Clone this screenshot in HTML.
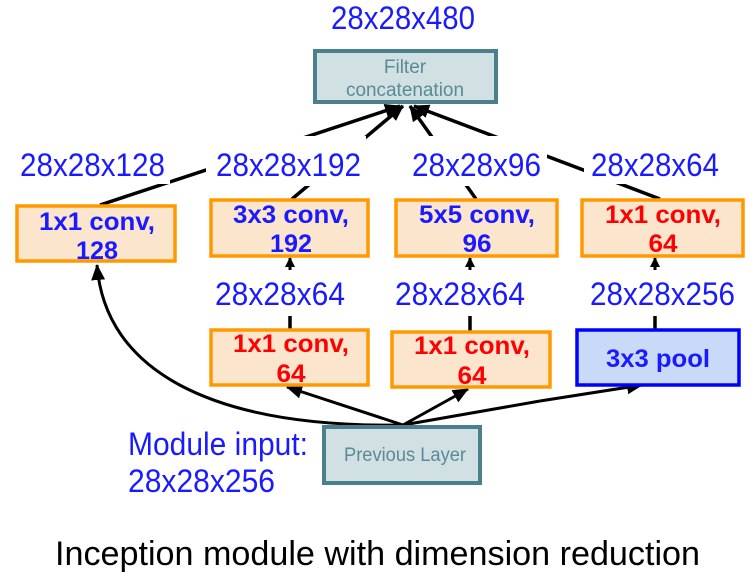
<!DOCTYPE html>
<html><head><meta charset="utf-8"><style>
body{margin:0;background:#fff;}
svg{display:block;font-family:"Liberation Sans",sans-serif;}
.l{font-size:32px;fill:#1a1aff;}
.b{font-size:25px;font-weight:bold;}
</style></head><body>
<svg width="755" height="579" viewBox="0 0 755 579" xmlns="http://www.w3.org/2000/svg">
<defs><marker id="a" markerWidth="10" markerHeight="10" refX="9" refY="5" orient="auto" markerUnits="userSpaceOnUse"><path d="M0,0 L10,5 L0,10 z" fill="#000"/></marker>
<marker id="A" markerWidth="16" markerHeight="14" refX="15" refY="7" orient="auto" markerUnits="userSpaceOnUse"><path d="M0,0 L16,7 L0,14 z" fill="#000"/></marker></defs>
<g stroke="#000" stroke-width="3.5" fill="none">
<line x1="100" y1="205" x2="400" y2="106" marker-end="url(#A)"/>
<line x1="292" y1="199" x2="403" y2="106" marker-end="url(#A)"/>
<line x1="476" y1="199" x2="410" y2="106" marker-end="url(#A)"/>
<line x1="660" y1="199" x2="414" y2="106" marker-end="url(#A)"/>
<line x1="290" y1="316" x2="290" y2="329"/>
<line x1="470" y1="316" x2="470" y2="331"/>
<line x1="655" y1="316" x2="655" y2="329"/>
</g>
<g stroke="#000" stroke-width="3" fill="none">
<line x1="290" y1="270" x2="290" y2="258" marker-end="url(#a)"/>
<line x1="470" y1="270" x2="470" y2="258" marker-end="url(#a)"/>
<line x1="655" y1="270" x2="655" y2="258" marker-end="url(#a)"/>
<line x1="403" y1="425" x2="287" y2="387" marker-end="url(#A)"/>
<line x1="403" y1="425" x2="468" y2="389" marker-end="url(#A)"/>
<line x1="403" y1="425" x2="540" y2="401" />
<line x1="540" y1="401" x2="642" y2="385" marker-end="url(#A)"/>
<path d="M403,425 C210,428 105,370 97,265" marker-end="url(#A)"/>
</g>
<g fill="#fff">
<rect x="14" y="140" width="156" height="44"/>
<rect x="206" y="136" width="160" height="50"/>
<rect x="402" y="136" width="145" height="50"/>
<rect x="584" y="140" width="140" height="44"/>
</g>
<text x="331" y="29" class="l" textLength="144" lengthAdjust="spacingAndGlyphs">28x28x480</text>
<rect x="315" y="51" width="181" height="51" fill="#d0e0e3" stroke="#4a7f8c" stroke-width="4"/>
<text x="405" y="73" text-anchor="middle" font-size="19" fill="#5a8a96">Filter</text>
<text x="346" y="96" font-size="19" fill="#5a8a96" textLength="118" lengthAdjust="spacingAndGlyphs">concatenation</text>
<text x="20" y="176" class="l" textLength="145" lengthAdjust="spacingAndGlyphs">28x28x128</text>
<text x="216" y="176" class="l" textLength="145" lengthAdjust="spacingAndGlyphs">28x28x192</text>
<text x="412" y="176" class="l" textLength="129" lengthAdjust="spacingAndGlyphs">28x28x96</text>
<text x="591" y="176" class="l" textLength="128" lengthAdjust="spacingAndGlyphs">28x28x64</text>
<g fill="#fce5cd" stroke="#ff9900" stroke-width="3.5">
<rect x="17" y="206" width="158" height="55"/>
<rect x="211" y="200" width="157" height="56"/>
<rect x="396" y="200" width="161" height="56"/>
<rect x="582" y="200" width="161" height="56"/>
<rect x="211" y="330" width="157" height="55"/>
<rect x="392" y="332" width="158" height="55"/>
</g>
<rect x="577" y="330" width="162" height="55" fill="#c9daf8" stroke="#0000ff" stroke-width="3.5"/>
<g class="b" text-anchor="middle" lengthAdjust="spacingAndGlyphs">
<text x="97" y="230" fill="#1a1aff" textLength="116" lengthAdjust="spacingAndGlyphs">1x1 conv,</text><text x="97" y="259" fill="#1a1aff" textLength="42" lengthAdjust="spacingAndGlyphs">128</text>
<text x="291" y="223" fill="#1a1aff" textLength="116" lengthAdjust="spacingAndGlyphs">3x3 conv,</text><text x="291" y="252" fill="#1a1aff" textLength="42" lengthAdjust="spacingAndGlyphs">192</text>
<text x="477" y="223" fill="#1a1aff" textLength="116" lengthAdjust="spacingAndGlyphs">5x5 conv,</text><text x="477" y="252" fill="#1a1aff" textLength="29" lengthAdjust="spacingAndGlyphs">96</text>
<text x="663" y="223" fill="#ff0000" textLength="116" lengthAdjust="spacingAndGlyphs">1x1 conv,</text><text x="663" y="252" fill="#ff0000" textLength="29" lengthAdjust="spacingAndGlyphs">64</text>
<text x="291" y="352" fill="#ff0000" textLength="116" lengthAdjust="spacingAndGlyphs">1x1 conv,</text><text x="291" y="382" fill="#ff0000" textLength="29" lengthAdjust="spacingAndGlyphs">64</text>
<text x="472" y="354" fill="#ff0000" textLength="116" lengthAdjust="spacingAndGlyphs">1x1 conv,</text><text x="472" y="384" fill="#ff0000" textLength="29" lengthAdjust="spacingAndGlyphs">64</text>
<text x="658" y="367" fill="#1a1aff" textLength="104" lengthAdjust="spacingAndGlyphs">3x3 pool</text>
</g>
<text x="215" y="305" class="l" textLength="130" lengthAdjust="spacingAndGlyphs">28x28x64</text>
<text x="395" y="305" class="l" textLength="130" lengthAdjust="spacingAndGlyphs">28x28x64</text>
<text x="590" y="305" class="l" textLength="145" lengthAdjust="spacingAndGlyphs">28x28x256</text>
<rect x="324" y="427" width="156" height="56" fill="#d0e0e3" stroke="#4a7f8c" stroke-width="4"/>
<text x="344" y="461" font-size="19" fill="#5a8a96" textLength="122" lengthAdjust="spacingAndGlyphs">Previous Layer</text>
<text x="128" y="455" class="l" textLength="180" lengthAdjust="spacingAndGlyphs">Module input:</text>
<text x="128" y="492" class="l" textLength="147" lengthAdjust="spacingAndGlyphs">28x28x256</text>
<text x="55" y="565" font-size="34" fill="#000" textLength="645" lengthAdjust="spacingAndGlyphs">Inception module with dimension reduction</text>
</svg>
</body></html>
